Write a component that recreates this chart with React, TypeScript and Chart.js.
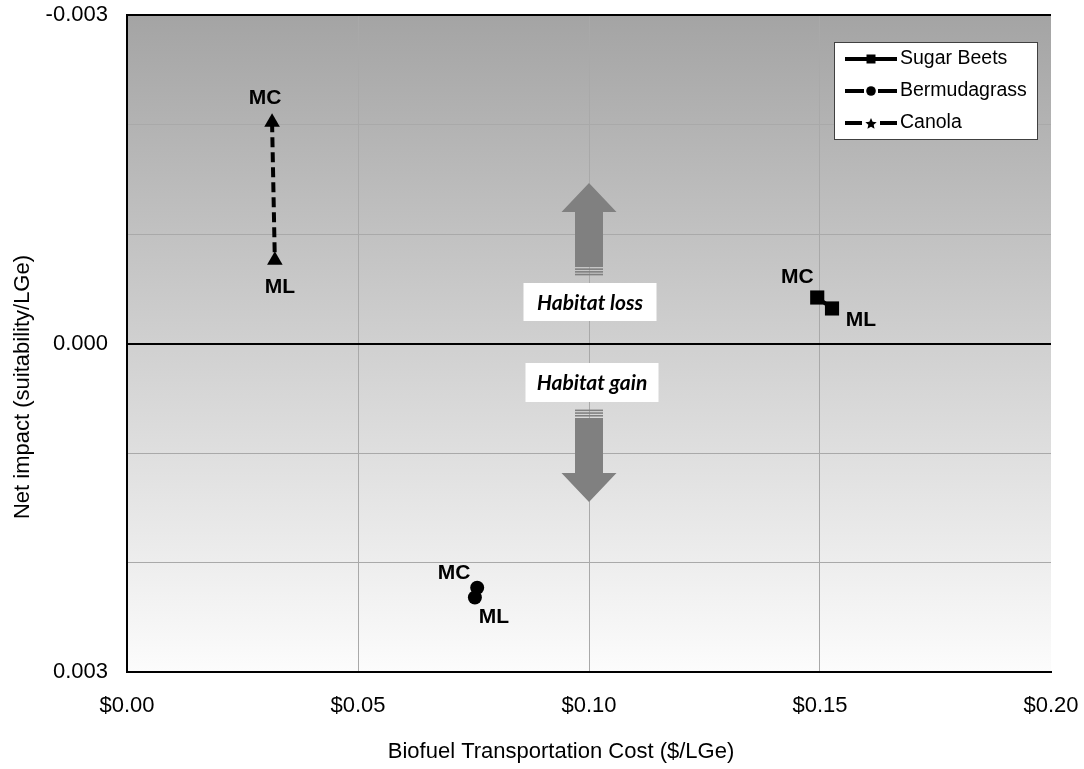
import React, { useEffect, useRef } from 'react';
import { Chart, registerables } from 'chart.js';

Chart.register(...registerables);

// ---------------- data ----------------
const seriesNames = ['Sugar Beets', 'Bermudagrass', 'Canola'];
const pointNames = ['MC', 'ML'];
const sugarBeetsCost = [0.1494, 0.1526];
const sugarBeetsImpact = [-0.00042, -0.00032];
const bermudagrassCost = [0.0758, 0.0753];
const bermudagrassImpact = [0.00223, 0.00232];
const canolaCost = [0.0314, 0.032];
const canolaImpact = [-0.00202, -0.00076];

const xMin = 0;
const xMax = 0.2;
const xStep = 0.05;
const yMin = -0.003;
const yMax = 0.003;
const yGridStep = 0.001;
const yLabelEvery = 3; // label every 3rd gridline (in 0.001 units)

const xAxisTitle = 'Biofuel Transportation Cost ($/LGe)';
const yAxisTitle = 'Net impact (suitability/LGe)';
const habitatLabels = ['Habitat loss', 'Habitat gain'];

// ---------------- styles ----------------
const SANS = '"Liberation Sans", Arial, sans-serif';
const CALLOUT_FONT = 'Lato, "Open Sans", sans-serif';

const seriesStyles = [
  { pointStyle: 'rect', radius: 10, dash: [] as number[], legendMarker: 'rect' },
  { pointStyle: 'circle', radius: 7, dash: [14, 5], legendMarker: 'circle' },
  { pointStyle: 'triangle', radius: 9, dash: [10, 5], legendMarker: 'star' },
];

// pixel offsets of the MC / ML text from its point
const labelOffsets = [
  [[-20, -20], [29, 12]],
  [[-23, -14], [19, 20]],
  [[-7, -24], [5, 27]],
];

const ANNOT = {
  arrowX: 0.1,
  up: { tip: -0.001466, base: -0.0012, tail: -0.000699 },
  down: { tail: 0.00068, base: 0.001183, tip: 0.001447 },
  headHalf: 27.5,
  shaftHalf: 14,
  color: '#808080',
  boxes: [
    { y: -0.000379, dx: 1, w: 133, h: 38 },
    { y: 0.000356, dx: 3, w: 133, h: 39 },
  ],
};

const LAYOUT = {
  width: 1084,
  height: 769,
  plotLeft: 127,
  plotRight: 1051,
  plotTop: 15,
  plotBottom: 672,
};

const decorPlugin = {
  id: 'decor',
  beforeDraw(chart: any) {
    const { ctx, chartArea: a } = chart;
    const g = ctx.createLinearGradient(0, a.top, 0, a.bottom);
    g.addColorStop(0, '#a4a4a4');
    g.addColorStop(1, '#fcfcfc');
    ctx.save();
    ctx.fillStyle = g;
    ctx.fillRect(a.left, a.top, a.right - a.left, a.bottom - a.top);
    ctx.restore();
  },
  beforeDatasetsDraw(chart: any) {
    const { ctx } = chart;
    const xs = chart.scales.x;
    const ys = chart.scales.y;
    const x = xs.getPixelForValue(ANNOT.arrowX);
    const H = ANNOT.headHalf;
    const S = ANNOT.shaftHalf;
    ctx.save();
    ctx.fillStyle = ANNOT.color;
    // up arrow
    {
      const tip = ys.getPixelForValue(ANNOT.up.tip);
      const base = ys.getPixelForValue(ANNOT.up.base);
      const tail = ys.getPixelForValue(ANNOT.up.tail);
      ctx.beginPath();
      ctx.moveTo(x, tip);
      ctx.lineTo(x + H, base);
      ctx.lineTo(x + S, base);
      ctx.lineTo(x + S, tail);
      ctx.lineTo(x - S, tail);
      ctx.lineTo(x - S, base);
      ctx.lineTo(x - H, base);
      ctx.closePath();
      ctx.fill();
      for (let i = 0; i < 3; i++) {
        ctx.fillRect(x - S, tail + 1.4 + i * 2.7, 2 * S, 1.6);
      }
    }
    // down arrow
    {
      const tip = ys.getPixelForValue(ANNOT.down.tip);
      const base = ys.getPixelForValue(ANNOT.down.base);
      const tail = ys.getPixelForValue(ANNOT.down.tail);
      ctx.beginPath();
      ctx.moveTo(x, tip);
      ctx.lineTo(x + H, base);
      ctx.lineTo(x + S, base);
      ctx.lineTo(x + S, tail);
      ctx.lineTo(x - S, tail);
      ctx.lineTo(x - S, base);
      ctx.lineTo(x - H, base);
      ctx.closePath();
      ctx.fill();
      for (let i = 0; i < 3; i++) {
        ctx.fillRect(x - S, tail - 3 - i * 2.7, 2 * S, 1.6);
      }
    }
    // callout boxes
    ANNOT.boxes.forEach((b, i) => {
      const cy = ys.getPixelForValue(b.y);
      const cx = x + b.dx;
      ctx.fillStyle = '#ffffff';
      ctx.fillRect(cx - b.w / 2, cy - b.h / 2, b.w, b.h);
      ctx.fillStyle = '#000000';
      ctx.font = `italic bold 21px ${CALLOUT_FONT}`;
      ctx.textAlign = 'center';
      ctx.textBaseline = 'middle';
      ctx.fillText(habitatLabels[i], cx, cy + 1);
    });
    ctx.restore();
  },
  afterDatasetsDraw(chart: any) {
    const { ctx } = chart;
    ctx.save();
    ctx.fillStyle = '#000';
    ctx.font = `bold 21px ${SANS}`;
    ctx.textAlign = 'center';
    ctx.textBaseline = 'middle';
    chart.data.datasets.forEach((ds: any, i: number) => {
      const meta = chart.getDatasetMeta(i);
      meta.data.forEach((pt: any, j: number) => {
        const off = labelOffsets[i][j];
        ctx.fillText(pointNames[j], pt.x + off[0], pt.y + off[1]);
      });
    });
    ctx.restore();
  },
  afterDraw(chart: any) {
    const { ctx, chartArea: a } = chart;
    ctx.save();
    // top border
    ctx.strokeStyle = '#000';
    ctx.lineWidth = 2;
    ctx.beginPath();
    ctx.moveTo(a.left - 1, a.top);
    ctx.lineTo(a.right, a.top);
    ctx.stroke();

    // axis titles
    ctx.fillStyle = '#000';
    ctx.font = `22px ${SANS}`;
    ctx.textAlign = 'center';
    ctx.textBaseline = 'middle';
    ctx.fillText(xAxisTitle, 561, 752);
    ctx.save();
    ctx.translate(23, 387);
    ctx.rotate(-Math.PI / 2);
    ctx.fillText(yAxisTitle, 0, 0);
    ctx.restore();

    // legend
    const bl = a.right - 217;
    const bt = a.top + 27;
    const bw = 203;
    const bh = 97;
    ctx.fillStyle = '#fff';
    ctx.fillRect(bl, bt, bw, bh);
    ctx.strokeStyle = '#404040';
    ctx.lineWidth = 1;
    ctx.strokeRect(bl + 0.5, bt + 0.5, bw, bh);
    chart.data.datasets.forEach((ds: any, i: number) => {
      const y = bt + 17 + i * 32;
      const x0 = bl + 11;
      const x1 = bl + 63;
      const mid = (x0 + x1) / 2;
      const st = seriesStyles[i];
      ctx.strokeStyle = '#000';
      ctx.lineWidth = 4;
      ctx.setLineDash([]);
      ctx.beginPath();
      if (st.dash.length === 0) {
        ctx.moveTo(x0, y);
        ctx.lineTo(x1, y);
      } else {
        const gap = i === 2 ? 9 : 7;
        ctx.moveTo(x0, y);
        ctx.lineTo(mid - gap, y);
        ctx.moveTo(mid + gap, y);
        ctx.lineTo(x1, y);
      }
      ctx.stroke();
      ctx.fillStyle = '#000';
      ctx.beginPath();
      if (st.legendMarker === 'rect') {
        ctx.rect(mid - 4.5, y - 4.5, 9, 9);
      } else if (st.legendMarker === 'circle') {
        ctx.arc(mid, y, 4.8, 0, Math.PI * 2);
      } else {
        const R = 6;
        const r = 2.8;
        for (let k = 0; k < 10; k++) {
          const ang = -Math.PI / 2 + (k * Math.PI) / 5;
          const rad = k % 2 === 0 ? R : r;
          const px = mid + Math.cos(ang) * rad;
          const py = y + 1 + Math.sin(ang) * rad;
          if (k === 0) ctx.moveTo(px, py);
          else ctx.lineTo(px, py);
        }
        ctx.closePath();
      }
      ctx.fill();
      ctx.font = `19.5px ${SANS}`;
      ctx.textAlign = 'left';
      ctx.textBaseline = 'middle';
      ctx.fillText(ds.label, bl + 66, y);
    });
    ctx.restore();
  },
};

function makeDataset(i: number, xs: number[], ys: number[]) {
  const st = seriesStyles[i];
  return {
    label: seriesNames[i],
    data: xs.map((x, k) => ({ x, y: ys[k] })),
    showLine: true,
    borderColor: '#000',
    backgroundColor: '#000',
    borderWidth: 4,
    borderDash: st.dash,
    pointStyle: st.pointStyle,
    pointRadius: st.radius,
    pointHoverRadius: st.radius,
    pointBorderWidth: 0,
    pointBackgroundColor: '#000',
    pointBorderColor: '#000',
  };
}

export default function App() {
  const canvasRef = useRef<HTMLCanvasElement | null>(null);

  useEffect(() => {
    if (!canvasRef.current) return;
    const chart = new Chart(canvasRef.current, {
      type: 'scatter',
      data: {
        datasets: [
          makeDataset(0, sugarBeetsCost, sugarBeetsImpact),
          makeDataset(1, bermudagrassCost, bermudagrassImpact),
          makeDataset(2, canolaCost, canolaImpact),
        ] as any,
      },
      options: {
        responsive: false,
        animation: false,
        devicePixelRatio: 1,
        layout: {
          padding: {
            top: LAYOUT.plotTop,
            right: LAYOUT.width - LAYOUT.plotRight,
            left: 0,
            bottom: 0,
          },
        },
        plugins: {
          legend: { display: false },
          tooltip: { enabled: false },
        },
        scales: {
          x: {
            type: 'linear',
            min: xMin,
            max: xMax,
            afterFit: (s: any) => {
              s.height = LAYOUT.height - LAYOUT.plotBottom;
              s.paddingLeft = 0;
              s.paddingRight = 0;
              s.paddingTop = 0;
              s.paddingBottom = 0;
            },
            ticks: {
              stepSize: xStep,
              autoSkip: false,
              maxRotation: 0,
              padding: 21,
              color: '#000',
              font: { family: SANS, size: 22 },
              callback: (v: any) => '$' + Number(v).toFixed(2),
            },
            grid: {
              drawTicks: false,
              color: (c: any) =>
                c.tick && Math.abs(c.tick.value - xMax) < 1e-9 ? 'rgba(0,0,0,0)' : '#a9a9a9',
              lineWidth: 1,
            },
            border: { display: true, color: '#000', width: 2 },
            title: { display: false },
          },
          y: {
            type: 'linear',
            min: yMin,
            max: yMax,
            reverse: true,
            afterFit: (s: any) => {
              s.width = LAYOUT.plotLeft;
              s.paddingLeft = 0;
              s.paddingRight = 0;
              s.paddingTop = 0;
              s.paddingBottom = 0;
            },
            ticks: {
              stepSize: yGridStep,
              autoSkip: false,
              padding: 19,
              color: '#000',
              font: { family: SANS, size: 22 },
              callback: (v: any) => {
                const k = Math.round(Number(v) / yGridStep);
                return k % yLabelEvery === 0 ? ((k * yGridStep) + 0).toFixed(3) : '';
              },
            },
            grid: {
              drawTicks: false,
              color: (c: any) =>
                c.tick && Math.abs(c.tick.value) < 1e-9 ? '#000' : '#a9a9a9',
              lineWidth: (c: any) => (c.tick && Math.abs(c.tick.value) < 1e-9 ? 2 : 1),
            },
            border: { display: true, color: '#000', width: 2 },
            title: { display: false },
          },
        },
      } as any,
      plugins: [decorPlugin],
    });
    return () => chart.destroy();
  }, []);

  return (
    <div
      style={{
        position: 'absolute',
        left: 0,
        top: 0,
        width: LAYOUT.width,
        height: LAYOUT.height,
        background: '#fff',
      }}
    >
      <canvas ref={canvasRef} width={LAYOUT.width} height={LAYOUT.height} />
    </div>
  );
}
